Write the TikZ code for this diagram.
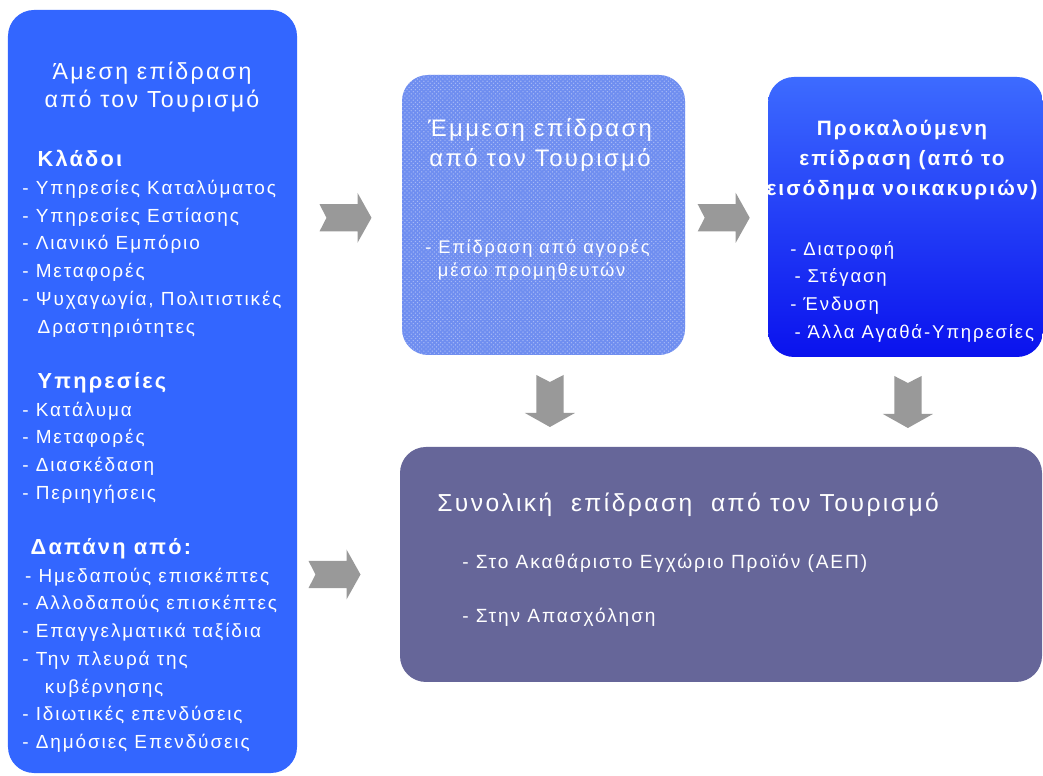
\documentclass[tikz,border=0pt]{standalone}
\usepackage{fontspec}
\setmainfont{Liberation Sans}
\newfontfamily\diagfont[LetterSpace=10]{Liberation Sans}
\usetikzlibrary{positioning, calc, patterns}
\definecolor{directblue}{HTML}{3366FF}
\definecolor{indirectblue}{HTML}{6F8EF0}
\definecolor{indirectdot}{HTML}{A8BAF6}
\definecolor{inducedtop}{HTML}{3D6BFF}
\definecolor{inducedbot}{HTML}{0A12EE}
\definecolor{totalpurple}{HTML}{666699}
\definecolor{arrowgray}{HTML}{999999}

\tikzset{
  panel/.style={rounded corners=0.65cm, inner sep=0pt, draw=none},
  titletext/.style={text=white, font=\diagfont\fontsize{16.5}{20}\selectfont, align=center, inner sep=0pt},
  itemtext/.style={text=white, font=\diagfont\fontsize{13.5}{19.7}\selectfont, align=left, inner sep=0pt},
  pics/blockarrow/.style={code={
    \fill[arrowgray] (-0.65,-0.34) -- (0.3,-0.34) -- (0.3,-0.625) -- (0.65,0)
      -- (0.3,0.625) -- (0.3,0.34) -- (-0.65,0.34) -- (-0.475,0) -- cycle;
  }}
}
\newcommand{\headfont}{\bfseries\fontsize{15.5}{19.7}\selectfont}

\begin{document}
\begin{tikzpicture}

% Page
\useasboundingbox (0,0) rectangle (26.075,19.375);
\clip (0,0) rectangle (26.075,19.375);
\fill[white] (0,0) rectangle (26.075,19.375);

% Panels
\node[panel, fill=directblue, minimum width=7.225cm, minimum height=19.075cm] (direct) at (3.8125,9.5875) {};
\node[panel, fill=indirectblue, postaction={pattern=crosshatch dots, pattern color=indirectdot},
      minimum width=7.075cm, minimum height=7.0cm] (indirect) at (13.5875,14.0) {};
\node[panel, top color=inducedtop, bottom color=inducedbot, minimum width=6.875cm, minimum height=7.0cm] (induced) at (22.6375,13.95) {};
\node[panel, fill=totalpurple, minimum width=16.05cm, minimum height=5.875cm] (total) at (18.025,5.2625) {};

% Direct effect
\node[titletext, font=\diagfont\fontsize{16.5}{19.9}\selectfont] (directtitle) at (3.8,17.2) {Άμεση επίδραση\\από τον Τουρισμό};
\node[itemtext, anchor=north west] (directlist) at (0.55,15.62) {%
  \hspace*{11pt}{\headfont Κλάδοι}\\
  - Υπηρεσίες Καταλύματος\\
  - Υπηρεσίες Εστίασης\\
  - Λιανικό Εμπόριο\\
  - Μεταφορές\\
  - Ψυχαγωγία, Πολιτιστικές\\
  \hspace*{11pt}Δραστηριότητες\\[19.7pt]
  \hspace*{11pt}{\headfont Υπηρεσίες}\\
  - Κατάλυμα\\
  - Μεταφορές\\
  - Διασκέδαση\\
  - Περιηγήσεις\\[19.7pt]
  \hspace*{6pt}{\headfont Δαπάνη από:}\\
  \hspace*{2pt}- Ημεδαπούς επισκέπτες\\
  - Αλλοδαπούς επισκέπτες\\
  - Επαγγελματικά ταξίδια\\
  - Την πλευρά της\\
  \hspace*{16pt}κυβέρνησης\\
  - Ιδιωτικές επενδύσεις\\
  - Δημόσιες Επενδύσεις};

% Indirect effect
\node[titletext, font=\diagfont\fontsize{17}{21.3}\selectfont] (indirecttitle) at (13.5,15.75) {Έμμεση επίδραση\\από τον Τουρισμό};
\node[itemtext, font=\diagfont\fontsize{13}{16.4}\selectfont, anchor=north west] (indirectlist) at (10.625,13.4)
  {- Επίδραση από αγορές\\\hspace*{9pt}μέσω προμηθευτών};

% Induced effect
\node[titletext, font=\diagfont\bfseries\fontsize{14.8}{21.3}\selectfont] (inducedtitle) at (22.55,15.375)
  {Προκαλούμενη\\επίδραση (από το\\εισόδημα νοικακυριών)};
\node[itemtext, font=\diagfont\fontsize{13.2}{19.7}\selectfont, anchor=north west] (inducedlist) at (19.75,13.35) {%
  - Διατροφή\\
  \hspace*{3pt}- Στέγαση\\
  - Ένδυση\\
  \hspace*{3pt}- Άλλα Αγαθά-Υπηρεσίες};

% Total effect
\node[titletext, font=\diagfont\fontsize{17.5}{20}\selectfont, anchor=west] (totaltitle) at (10.925,6.75) {Συνολική\ \ επίδραση\ \ από τον Τουρισμό};
\node[itemtext, font=\diagfont\fontsize{13.6}{19}\selectfont, anchor=west] (totalgdp) at (11.55,5.3) {- Στο Ακαθάριστο Εγχώριο Προϊόν (ΑΕΠ)};
\node[itemtext, font=\diagfont\fontsize{13.6}{19}\selectfont, anchor=west] (totaljobs) at (11.55,3.95) {- Στην Απασχόληση};

% Block arrows
\pic at ($(direct.east |- indirect.west)!0.5!(indirect.west) + (-0.1,-0.07)$) {blockarrow};
\pic at ($(indirect.east)!0.5!(induced.west |- indirect.east) + (-0.07,-0.07)$) {blockarrow};
\pic at ($(direct.east |- total.west)!0.5!(total.west) + (-0.35,-0.25)$) {blockarrow};
\pic[rotate=-90] at ($(indirect.south)!0.5!(indirect.south |- total.north) + (0.16,0)$) {blockarrow};
\pic[rotate=-90] at ($(induced.south)!0.5!(induced.south |- total.north) + (0.06,0)$) {blockarrow};

\end{tikzpicture}
\end{document}
